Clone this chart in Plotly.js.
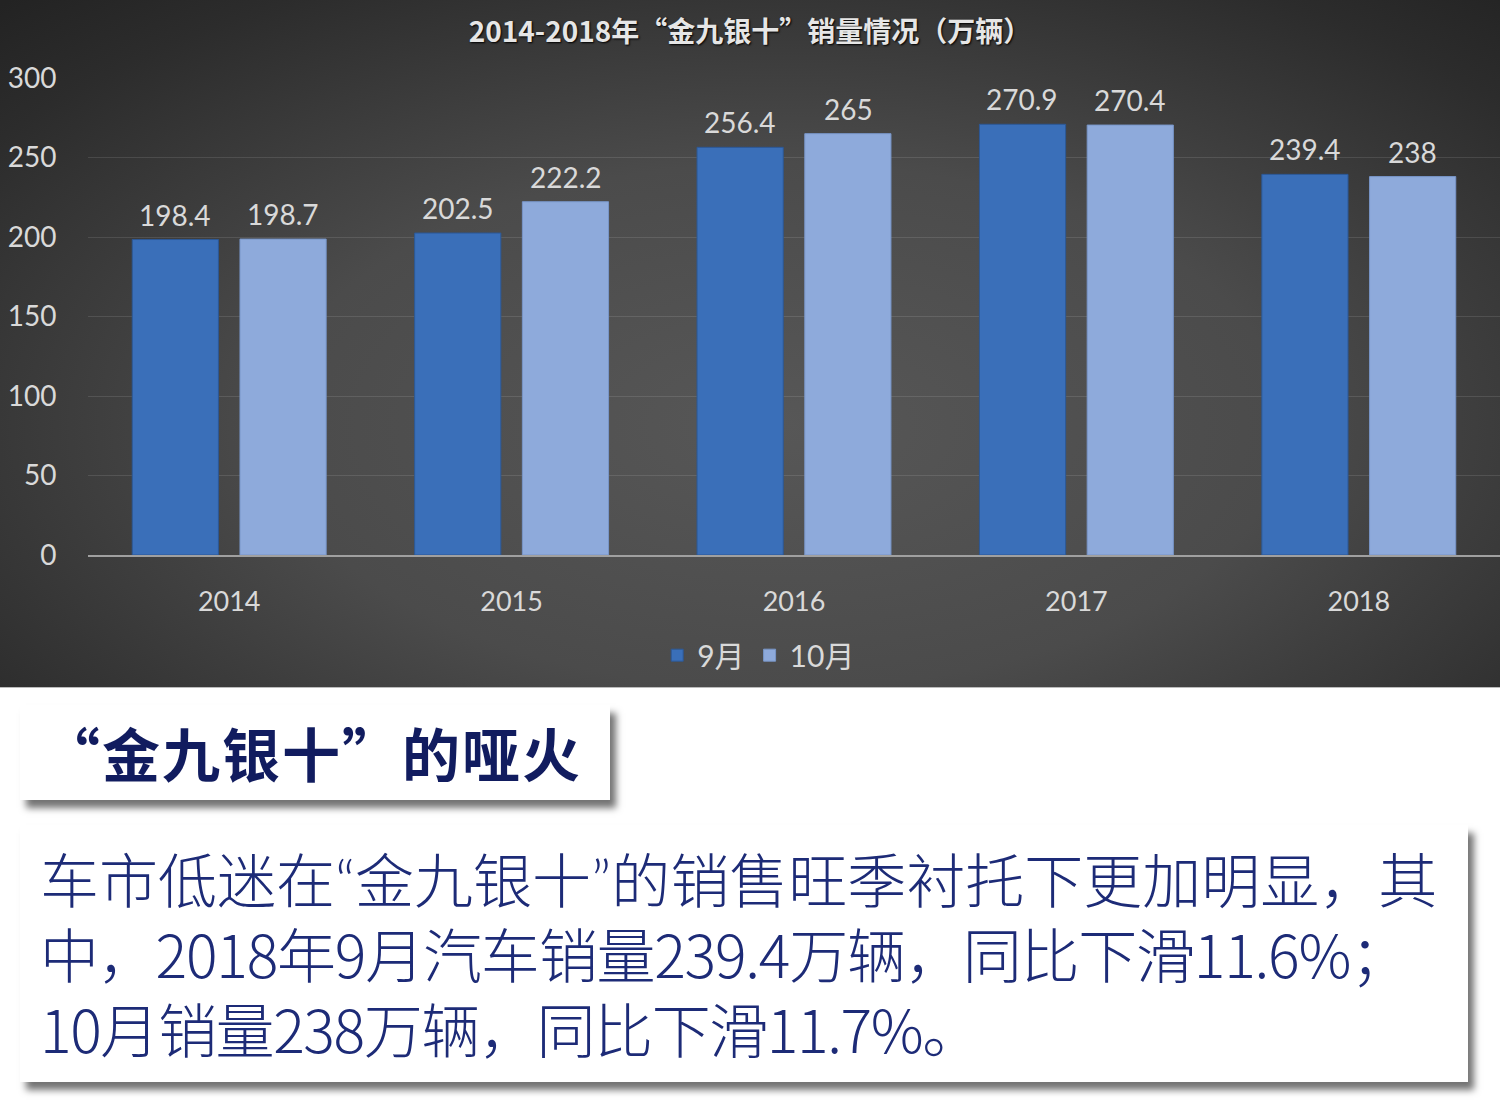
<!DOCTYPE html>
<html>
<head>
<meta charset="utf-8">
<script src="https://cdn.plot.ly/plotly-3.0.1.min.js"></script>
<style>
  body { margin: 0; width: 1500px; height: 1113px; background: #fff; position: relative; overflow: hidden;
         font-family: "Noto Sans CJK SC", sans-serif; }
  #chart { position: absolute; left: 0; top: 0; width: 1500px; height: 687px;
           background: radial-gradient(ellipse 75% 85% at 52% 62%, #575757 0%, #4b4b4b 45%, #2c2c2c 85%, #232323 100%);
           border-bottom: 1px solid #bbb; }
  .box { position: absolute; background: #fff; box-shadow: 6px 8px 7px rgba(0,0,0,0.55); }
  .q { font-family: Lato, sans-serif; }
  #head { left: 20px; top: 705px; width: 590px; height: 95px; color: #111c5f; box-sizing: border-box;
          font-weight: bold; font-size: 58px; line-height: 95px; padding-left: 22px; letter-spacing: 2px; white-space: nowrap; }
  #body { left: 20px; top: 825px; width: 1448px; height: 257px; color: #1d2b77;
          font-size: 59px; font-weight: 300; padding: 15px 0 0 20px; box-sizing: border-box; white-space: nowrap; }
  #body div { height: 75px; line-height: 75px; }
</style>
</head>
<body>
<div id="chart"></div>
<div class="box" id="head">“金九银十”的哑火</div>
<div class="box" id="body">
  <div>车市低迷在<span class="q">“</span>金九银十<span class="q">”</span>的销售旺季衬托下更加明显，其</div>
  <div style="letter-spacing:-1.2px">中，2018年9月汽车销量239.4万辆，同比下滑11.6%；</div>
  <div style="letter-spacing:-1.4px">10月销量238万辆，同比下滑11.7%。</div>
</div>
<script>
var years = ["2014", "2015", "2016", "2017", "2018"];
var sep = [198.4, 202.5, 256.4, 270.9, 239.4];
var oct = [198.7, 222.2, 265, 270.4, 238];
var seriesNames = ["9月", "10月"];

var txtColor = "#d9d9d9";
var numFont = "Lato, 'Noto Sans CJK SC', sans-serif";

var data = [{
    x: years, y: sep, name: seriesNames[0], type: "bar",
    marker: {color: "#3a6fb9", line: {color: "#2c5896", width: 1}}
}, {
    x: years, y: oct, name: seriesNames[1], type: "bar",
    marker: {color: "#8eaadb", line: {color: "#7895c8", width: 1}}
}];

// value labels above the bars (x given as category index)
var annotations = [];
[sep, oct].forEach(function(vals, j){
    vals.forEach(function(v, i){
        annotations.push({
            x: i, y: v, xref: "x", yref: "y",
            text: String(v), showarrow: false,
            xshift: j == 0 ? -54 : 54, yshift: 6, yanchor: "bottom",
            font: {family: numFont, size: 28, color: txtColor}
        });
    });
});

var layout = {
    width: 1500, height: 687,
    paper_bgcolor: "rgba(0,0,0,0)", plot_bgcolor: "rgba(0,0,0,0)",
    margin: {l: 88, r: 0, t: 78, b: 132},
    title: {
        text: "2014-2018年“金九银十”销量情况（万辆）",
        x: 0.5, xref: "container", xanchor: "center", y: 0.968, yref: "container",
        font: {family: "'Noto Sans CJK SC', sans-serif", size: 28, color: "#e6e6e6", weight: "bold", shadow: "1px 1px 2px #000"}
    },
    barmode: "group", bargap: 0.237, bargroupgap: 0.2,
    xaxis: {
        type: "category", range: [-0.5, 4.5], showgrid: false, showline: true, linecolor: "#a0a0a0", linewidth: 1.5,
        ticks: "outside", ticklen: 22, tickcolor: "rgba(0,0,0,0)",
        tickfont: {family: numFont, size: 27, color: txtColor}
    },
    yaxis: {
        range: [0, 300], dtick: 50, showgrid: true, gridcolor: "rgba(255,255,255,0.11)", gridwidth: 1,
        zeroline: false, showline: false,
        ticks: "outside", ticklen: 25, tickcolor: "rgba(0,0,0,0)",
        tickfont: {family: numFont, size: 28, color: txtColor}
    },
    legend: {
        orientation: "h", x: 0.475, xanchor: "center", y: -0.21, yanchor: "middle",
        font: {family: numFont, size: 30, color: txtColor}, bgcolor: "rgba(0,0,0,0)"
    },
    annotations: annotations,
    showlegend: true
};

Plotly.newPlot("chart", data, layout, {displayModeBar: false});
</script>
</body>
</html>
